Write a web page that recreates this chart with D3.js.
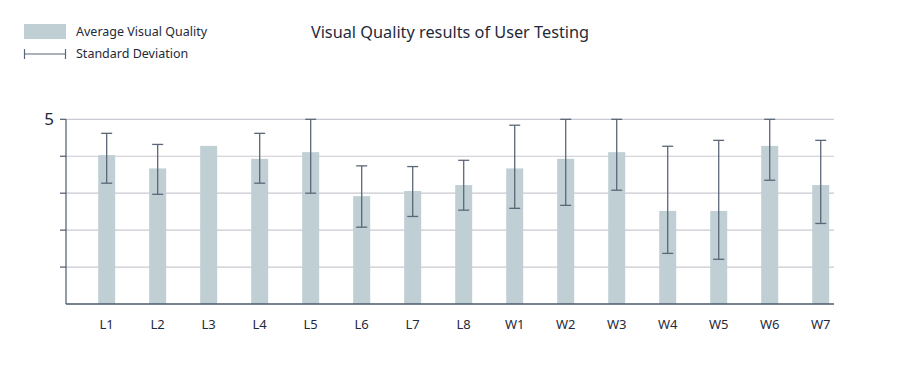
<!DOCTYPE html>
<html>
<head>
<meta charset="utf-8">
<script src="https://cdn.jsdelivr.net/npm/d3@7"></script>
<style>
  body { margin: 0; background: #fff; }
  svg { display: block; font-family: "Noto Sans", sans-serif; }
</style>
</head>
<body>
<div id="chart"></div>
<script>
// Data
const categories = ['L1', 'L2', 'L3', 'L4', 'L5', 'L6', 'L7', 'L8', 'W1', 'W2', 'W3', 'W4', 'W5', 'W6', 'W7']
const avgQuality = [4.03, 3.67, 4.28, 3.93, 4.11, 2.92, 3.06, 3.22, 3.67, 3.93, 4.11, 2.52, 2.52, 4.28, 3.22]
// lower / upper end of the standard deviation whisker (null = no whisker)
const sdLow = [3.27, 2.97, null, 3.27, 3.0, 2.08, 2.37, 2.54, 2.59, 2.67, 3.08, 1.37, 1.21, 3.35, 2.18]
const sdHigh = [4.62, 4.32, null, 4.62, 5.0, 3.74, 3.72, 3.89, 4.84, 5.0, 5.0, 4.27, 4.43, 5.0, 4.43]
const yTicks = [1, 2, 3, 4, 5]

const W = 900, H = 372
const barColor = '#bfcfd3'
const errColor = '#5b6778'
const gridColor = '#c9cad2'
const axisColor = '#4b5a6c'
const textColor = '#1f2a3a'

const svg = d3.select('#chart').append('svg')
  .attr('width', W)
  .attr('height', H)

const plotLeft = 66, plotRight = 834, plotTop = 119.3, plotBottom = 304

const x = d3.scaleBand()
  .domain(categories)
  .range([81.2, 846.2])
  .paddingInner(0.667)
  .paddingOuter(0.333)

const y = d3.scaleLinear()
  .domain([0, 5])
  .range([plotBottom, plotTop])

// Grid
svg.append('g')
  .selectAll('line')
  .data(yTicks)
  .join('line')
  .attr('x1', plotLeft)
  .attr('x2', plotRight)
  .attr('y1', d => y(d))
  .attr('y2', d => y(d))
  .attr('stroke', gridColor)
  .attr('stroke-width', 1.2)

// Bars
svg.append('g')
  .selectAll('rect')
  .data(categories)
  .join('rect')
  .attr('x', d => x(d))
  .attr('width', x.bandwidth())
  .attr('y', (d, i) => y(avgQuality[i]))
  .attr('height', (d, i) => plotBottom - y(avgQuality[i]))
  .attr('fill', barColor)

// Axes
svg.append('line')
  .attr('x1', plotLeft).attr('x2', plotLeft)
  .attr('y1', plotTop).attr('y2', plotBottom)
  .attr('stroke', axisColor).attr('stroke-width', 1.2)
svg.append('line')
  .attr('x1', plotLeft).attr('x2', plotRight)
  .attr('y1', plotBottom).attr('y2', plotBottom)
  .attr('stroke', axisColor).attr('stroke-width', 1.5)

svg.append('g')
  .selectAll('line')
  .data(yTicks)
  .join('line')
  .attr('x1', plotLeft - 6)
  .attr('x2', plotLeft)
  .attr('y1', d => y(d))
  .attr('y2', d => y(d))
  .attr('stroke', axisColor)
  .attr('stroke-width', 1.2)

svg.append('text')
  .attr('x', 54)
  .attr('y', y(5))
  .attr('dy', '0.36em')
  .attr('text-anchor', 'end')
  .style('font-size', '17px')
  .style('fill', textColor)
  .text('5')

// Error bars
const errData = categories
  .map((c, i) => ({ c, lo: sdLow[i], hi: sdHigh[i] }))
  .filter(d => d.lo != null)

const err = svg.append('g')
  .attr('stroke', errColor)
  .attr('stroke-width', 1.3)
  .selectAll('g')
  .data(errData)
  .join('g')
  .attr('transform', d => `translate(${x(d.c) + x.bandwidth() / 2},0)`)

err.append('line')
  .attr('y1', d => y(d.lo))
  .attr('y2', d => y(d.hi))
err.append('line')
  .attr('x1', -5.5).attr('x2', 5.5)
  .attr('y1', d => y(d.lo)).attr('y2', d => y(d.lo))
err.append('line')
  .attr('x1', -5.5).attr('x2', 5.5)
  .attr('y1', d => y(d.hi)).attr('y2', d => y(d.hi))

// X labels
svg.append('g')
  .selectAll('text')
  .data(categories)
  .join('text')
  .attr('x', d => x(d) + x.bandwidth() / 2)
  .attr('y', 329)
  .attr('text-anchor', 'middle')
  .style('font-size', '13px')
  .style('fill', textColor)
  .text(d => d)

// Title
svg.append('text')
  .attr('x', 450)
  .attr('y', 38)
  .attr('text-anchor', 'middle')
  .style('font-size', '16.3px')
  .style('fill', textColor)
  .text('Visual Quality results of User Testing')

// Legend
svg.append('rect')
  .attr('x', 24).attr('y', 24)
  .attr('width', 42).attr('height', 15)
  .attr('fill', barColor)
svg.append('text')
  .attr('x', 76).attr('y', 32)
  .attr('dy', '0.35em')
  .style('font-size', '12.5px')
  .style('fill', textColor)
  .text('Average Visual Quality')

const lg = svg.append('g').attr('stroke', errColor).attr('stroke-width', 1.2)
lg.append('line').attr('x1', 24).attr('x2', 66).attr('y1', 54).attr('y2', 54)
lg.append('line').attr('x1', 24.5).attr('x2', 24.5).attr('y1', 49).attr('y2', 59)
lg.append('line').attr('x1', 65.5).attr('x2', 65.5).attr('y1', 49).attr('y2', 59)
svg.append('text')
  .attr('x', 76).attr('y', 54)
  .attr('dy', '0.35em')
  .style('font-size', '12.5px')
  .style('fill', textColor)
  .text('Standard Deviation')
</script>
</body>
</html>
